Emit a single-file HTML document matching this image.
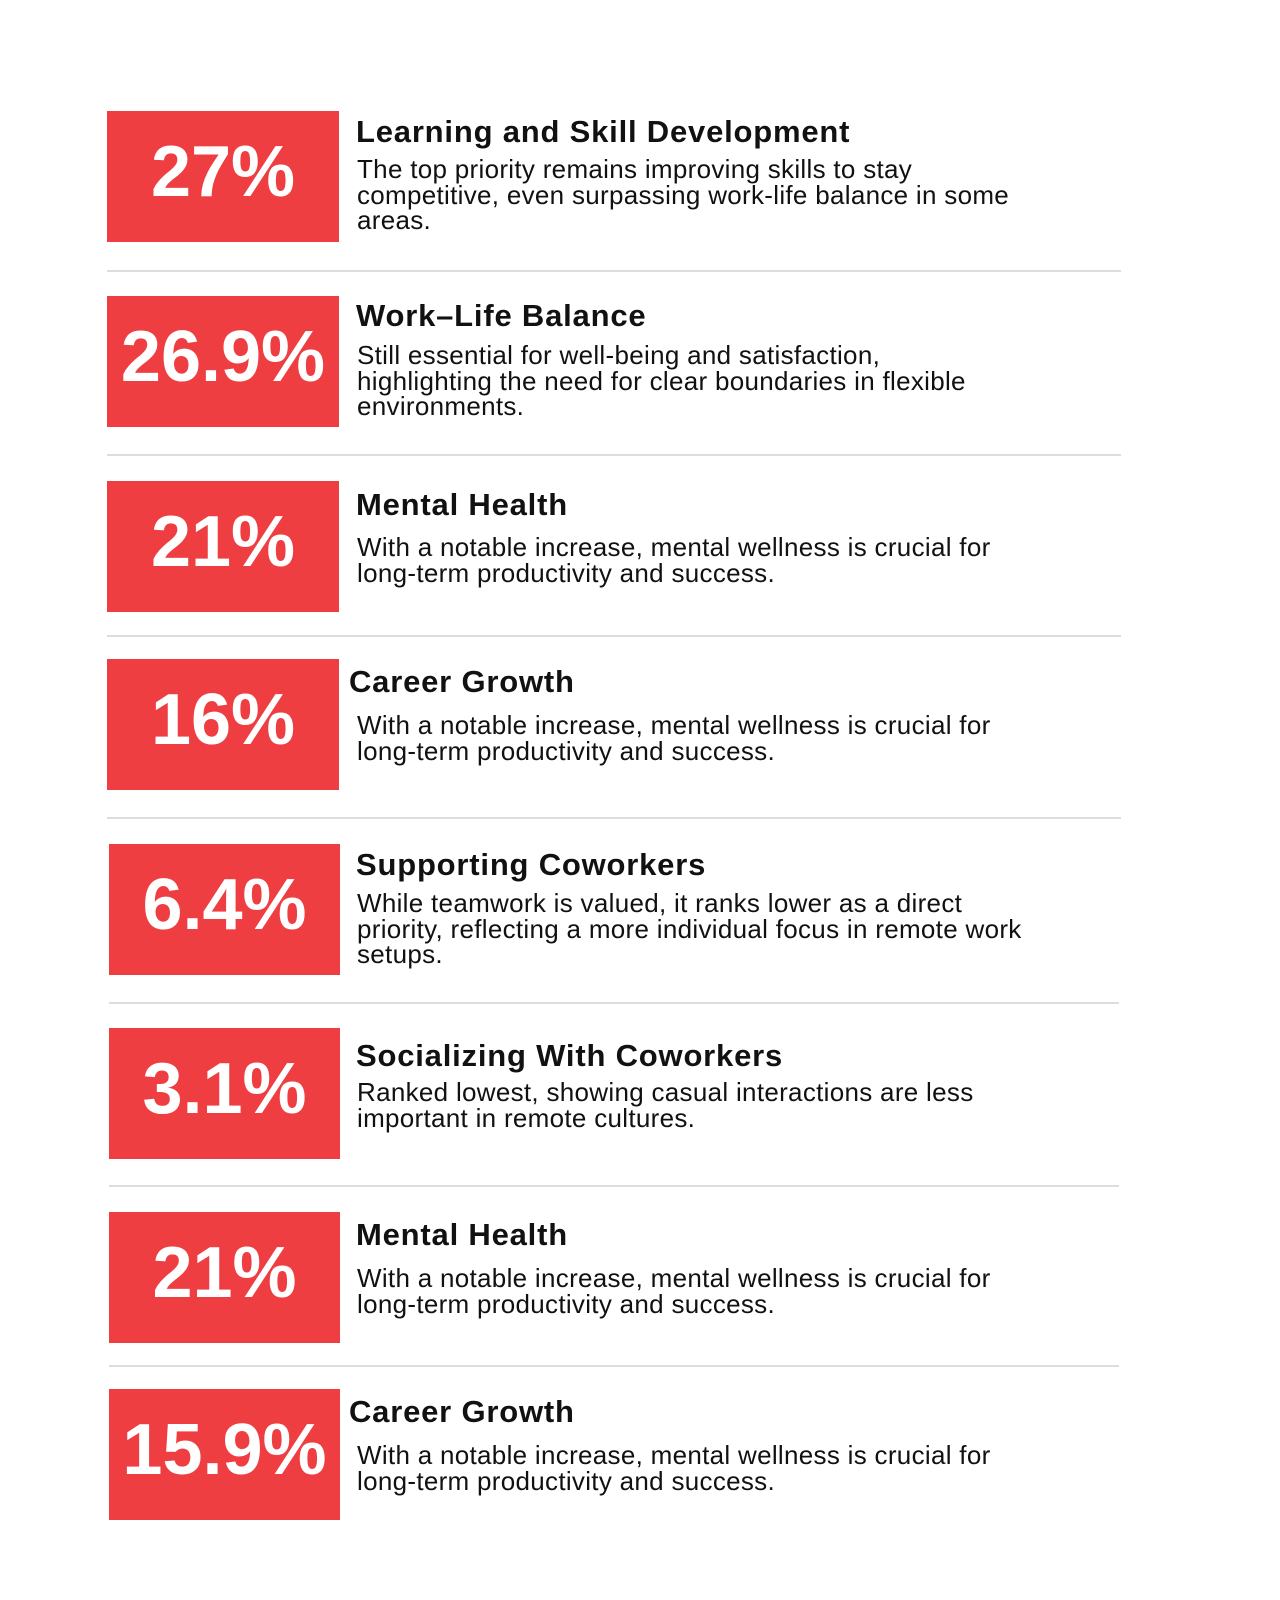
<!DOCTYPE html>
<html><head><meta charset="utf-8">
<style>
html,body{margin:0;padding:0;background:#fff;}
body{width:1280px;height:1600px;position:relative;overflow:hidden;font-family:"Liberation Sans",sans-serif;}
.box{position:absolute;background:#ef3e42;color:#fff;font-weight:bold;font-size:72px;display:flex;align-items:center;justify-content:center;letter-spacing:0px;box-sizing:border-box;padding-bottom:10px;}
.title{position:absolute;font-weight:bold;font-size:31px;line-height:31px;color:#111;white-space:nowrap;letter-spacing:0.8px;}
.desc{position:absolute;font-size:26px;line-height:25.5px;color:#111;width:800px;letter-spacing:0.3px;white-space:nowrap;}
.div{position:absolute;height:2px;background:#ddd;}
</style></head>
<body>
<script>
const values = ["27%","26.9%","21%","16%","6.4%","3.1%","21%","15.9%"];
const titles = ["Learning and Skill Development","Work–Life Balance","Mental Health","Career Growth","Supporting Coworkers","Socializing With Coworkers","Mental Health","Career Growth"];
const descs = [
"The top priority remains improving skills to stay<br>competitive, even surpassing work-life balance in some<br>areas.",
"Still essential for well-being and satisfaction,<br>highlighting the need for clear boundaries in flexible<br>environments.",
"With a notable increase, mental wellness is crucial for<br>long-term productivity and success.",
"With a notable increase, mental wellness is crucial for<br>long-term productivity and success.",
"While teamwork is valued, it ranks lower as a direct<br>priority, reflecting a more individual focus in remote work<br>setups.",
"Ranked lowest, showing casual interactions are less<br>important in remote cultures.",
"With a notable increase, mental wellness is crucial for<br>long-term productivity and success.",
"With a notable increase, mental wellness is crucial for<br>long-term productivity and success."
];
const boxTops=[111,296,481,659,844,1028,1212,1389];
const titleCap=[119,303,492,669,852,1043,1222,1399];
const descCap=[159,345,537,715,893,1082,1268,1445];
const titleX=[356,356,356,349,356,356,356,349];
const dividers=[270,454,635,817,1002,1185,1365];
for(let i=0;i<values.length;i++){
  const left = i<4?107:109;
  const b=document.createElement('div');
  b.className='box';
  
  
  b.style.cssText=`left:${left}px;top:${boxTops[i]}px;width:${i<4?232:231}px;height:131px;`;
  b.textContent=values[i];
  document.body.appendChild(b);
  const t=document.createElement('div');
  t.className='title';
  
  
  t.style.cssText=`left:${titleX[i]}px;top:${titleCap[i]-3}px;`;
  t.textContent=titles[i];
  document.body.appendChild(t);
  const d=document.createElement('div');
  d.className='desc';
  
  
  d.style.cssText=`left:357px;top:${descCap[i]-2}px;`;
  d.innerHTML=descs[i];
  document.body.appendChild(d);
}
for(let i=0;i<dividers.length;i++){
  const l=document.createElement('div');
  l.className='div';
  
  
  l.style.cssText=`left:${i<4?107:109}px;top:${dividers[i]}px;width:${i<4?1014:1010}px;`;
  document.body.appendChild(l);
}
</script>
</body></html>
